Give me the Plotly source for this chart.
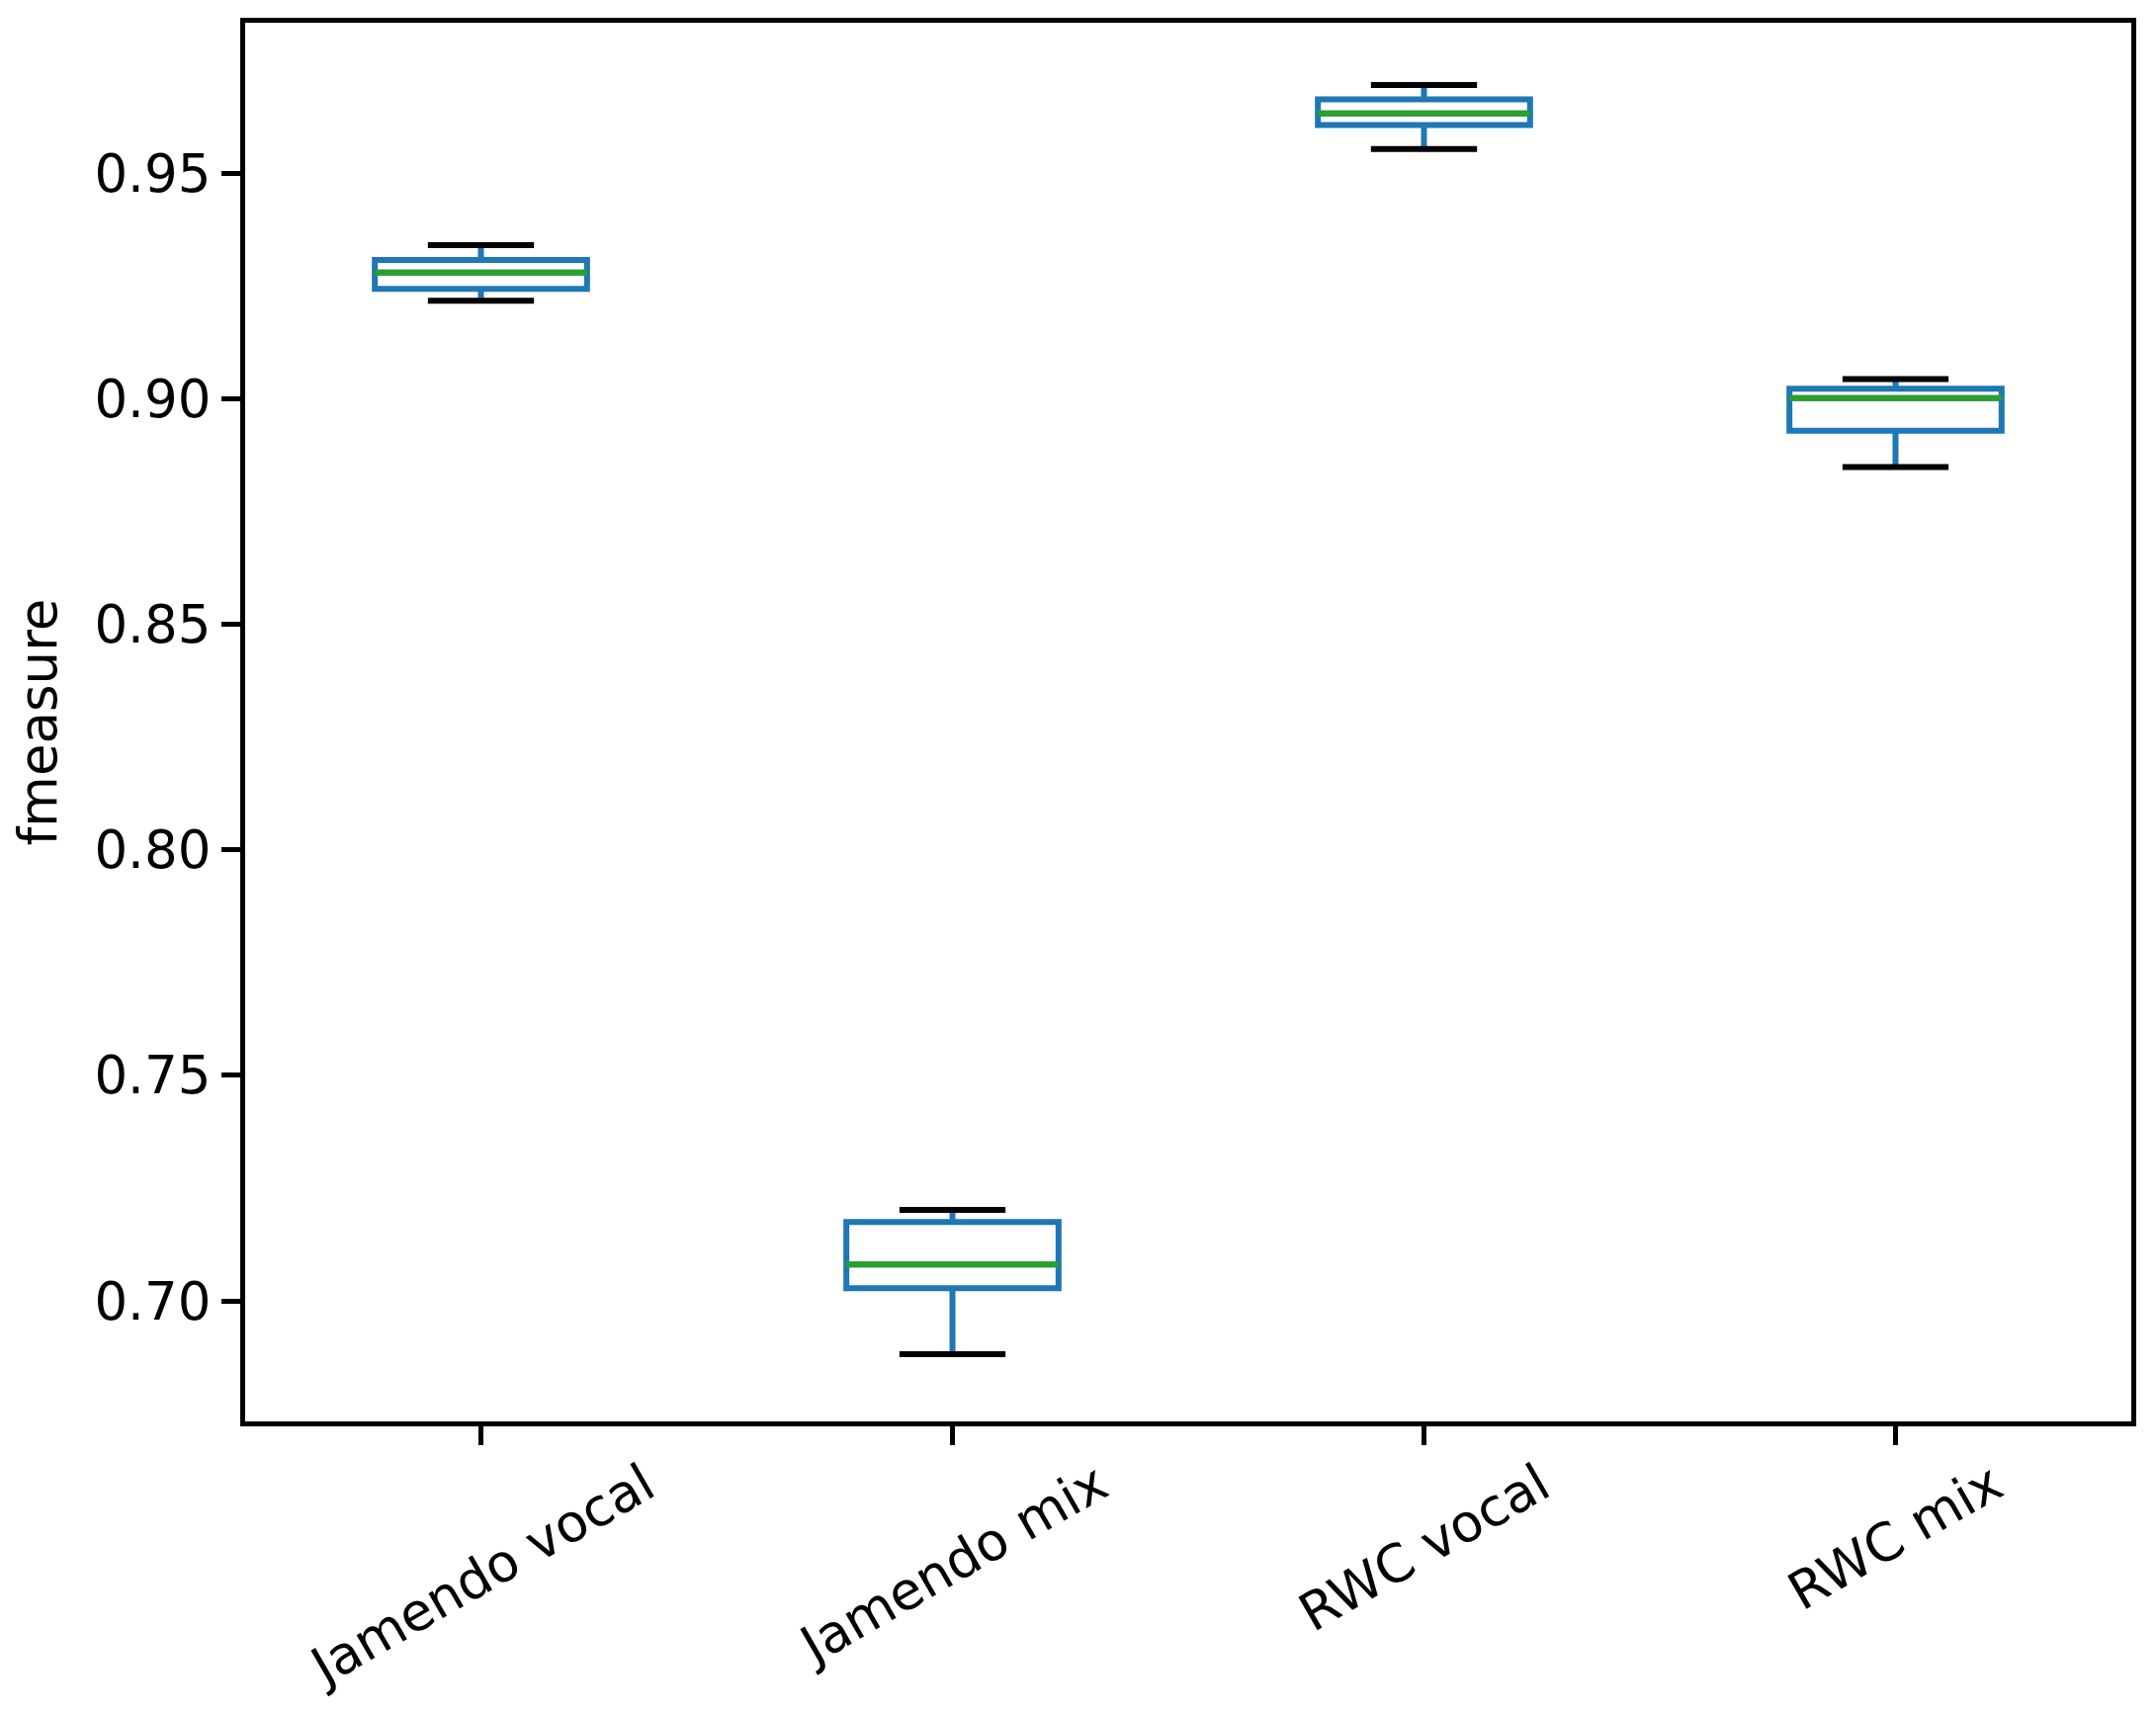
import plotly.graph_objects as go

# ---- data ----
categories = ["Jamendo vocal", "Jamendo mix", "RWC vocal", "RWC mix"]
lower_whisker = [0.9217, 0.6882, 0.9553, 0.8848]
q1_values = [0.9243, 0.7028, 0.9606, 0.8929]
median_values = [0.9279, 0.7081, 0.9632, 0.9001]
q3_values = [0.9307, 0.7175, 0.9663, 0.9022]
upper_whisker = [0.9340, 0.7202, 0.9695, 0.9043]
y_tick_values = [0.70, 0.75, 0.80, 0.85, 0.90, 0.95]
y_tick_labels = ["0.70", "0.75", "0.80", "0.85", "0.90", "0.95"]
y_label = "fmeasure"

# ---- styling ----
BLUE = "#1f77b4"
GREEN = "#2ca02c"
FONT = "DejaVu Sans"
FS = 53
BOX_W = 0.45
CAP_W = 0.225
LW = 6
AXW = 5

positions = [i + 1 for i in range(len(categories))]

fig = go.Figure()

fig.add_trace(go.Box(
    x=positions,
    q1=q1_values, median=median_values, q3=q3_values,
    lowerfence=lower_whisker, upperfence=upper_whisker,
    width=BOX_W,
    line=dict(color=BLUE, width=LW),
    fillcolor="rgba(0,0,0,0)",
    whiskerwidth=0,
    boxpoints=False,
    showlegend=False,
    hoverinfo="skip",
))

# median lines (green)
mx, my = [], []
for p, m in zip(positions, median_values):
    mx += [p - BOX_W / 2, p + BOX_W / 2, None]
    my += [m, m, None]
fig.add_trace(go.Scatter(x=mx, y=my, mode="lines",
                         line=dict(color=GREEN, width=LW),
                         showlegend=False, hoverinfo="skip"))

# whisker caps (black)
cx, cy = [], []
for p, lo, hi in zip(positions, lower_whisker, upper_whisker):
    for v in (lo, hi):
        cx += [p - CAP_W / 2, p + CAP_W / 2, None]
        cy += [v, v, None]
fig.add_trace(go.Scatter(x=cx, y=cy, mode="lines",
                         line=dict(color="black", width=LW),
                         showlegend=False, hoverinfo="skip"))

# rotated category labels, centred under ticks like matplotlib
for p, lab in zip(positions, categories):
    fig.add_annotation(x=p, xref="x", y=0, yref="paper",
                       text=lab, textangle=-30, showarrow=False,
                       xanchor="center", yanchor="top", yshift=-28,
                       font=dict(family=FONT, size=FS, color="black"))

# page body has an 8px margin: compensate so the plot lands on the same pixels
fig.update_layout(
    width=2173, height=1727,
    margin=dict(l=240, r=25, t=10, b=297, pad=0),
    paper_bgcolor="white", plot_bgcolor="white",
    font=dict(family=FONT, size=FS, color="black"),
    showlegend=False,
)

fig.update_xaxes(
    range=[0.5, 4.5],
    tickvals=positions, ticktext=categories, showticklabels=False,
    ticks="outside", ticklen=19, tickwidth=AXW, tickcolor="black",
    showline=True, linecolor="black", linewidth=AXW, mirror=True,
    showgrid=False, zeroline=False,
)
fig.update_yaxes(
    range=[0.6733, 0.9833],
    tickvals=y_tick_values, ticktext=y_tick_labels,
    ticks="outside", ticklen=19, tickwidth=AXW, tickcolor="black",
    ticklabelstandoff=0,
    showline=True, linecolor="black", linewidth=AXW, mirror=True,
    showgrid=False, zeroline=False,
    title=dict(text=y_label, font=dict(family=FONT, size=FS), standoff=34),
)

fig.write_html("out.html")
